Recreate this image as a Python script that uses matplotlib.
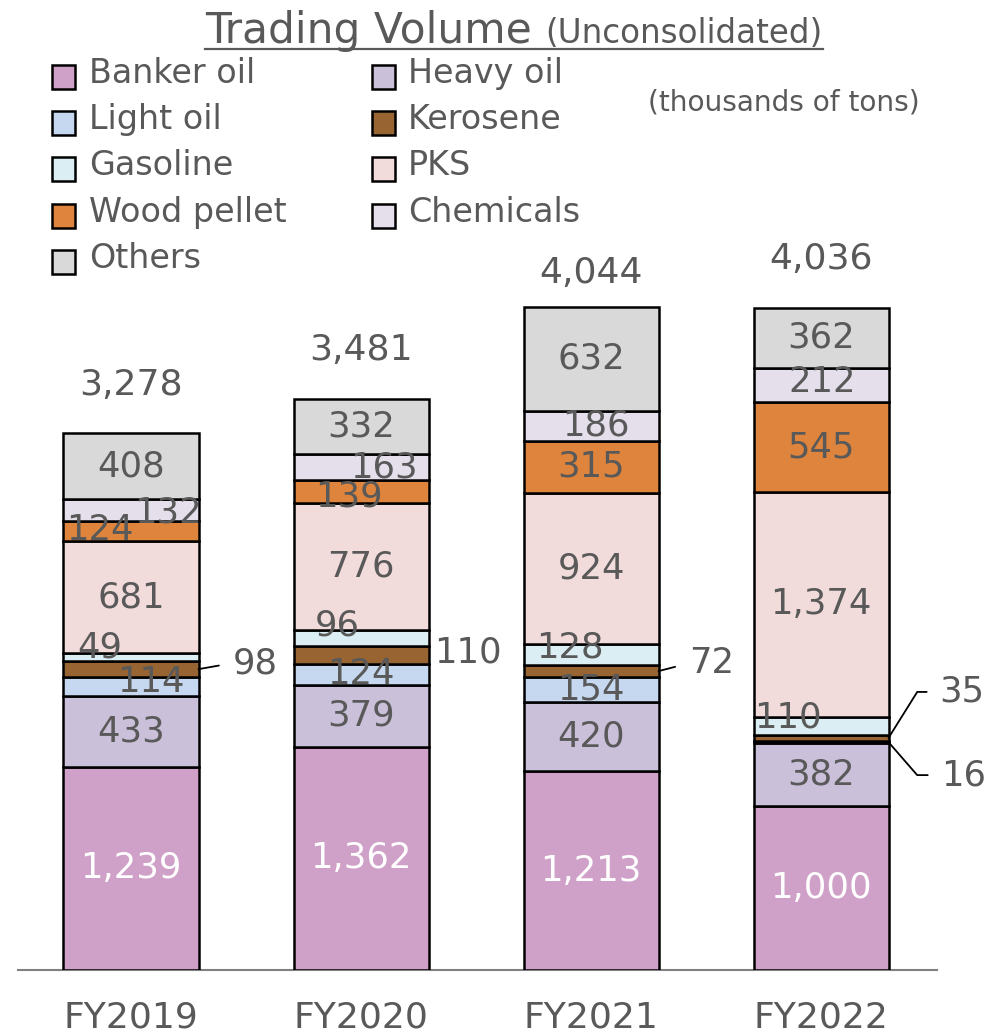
import matplotlib
matplotlib.use("Agg")
import matplotlib.pyplot as plt
from matplotlib.patches import Rectangle
from matplotlib.lines import Line2D

# ---------------- data ----------------
categories = ["FY2019", "FY2020", "FY2021", "FY2022"]
series_names = ["Banker oil", "Heavy oil", "Light oil", "Kerosene", "Gasoline",
                "PKS", "Wood pellet", "Chemicals", "Others"]
banker_oil = [1239, 1362, 1213, 1000]
heavy_oil = [433, 379, 420, 382]
light_oil = [114, 124, 154, 16]
kerosene = [98, 110, 72, 35]
gasoline = [49, 96, 128, 110]
pks = [681, 776, 924, 1374]
wood_pellet = [124, 139, 315, 545]
chemicals = [132, 163, 186, 212]
others = [408, 332, 632, 362]
totals = [3278, 3481, 4044, 4036]

title_main = "Trading Volume"
title_sub = "(Unconsolidated)"
unit_label = "(thousands of tons)"

series_values = [banker_oil, heavy_oil, light_oil, kerosene, gasoline,
                 pks, wood_pellet, chemicals, others]

# ---------------- style ----------------
colors = ["#D0A1C8", "#CBC0DA", "#C5D8EF", "#986432", "#DAEEF3",
          "#F2DCDB", "#DE843C", "#E5DFEC", "#D9D9D9"]
TXT = "#595959"
W, H = 1002, 1033

plt.rcParams['font.family'] = ['DejaVu Sans']

fig = plt.figure(figsize=(W / 100, H / 100), dpi=100)
ax = fig.add_axes([18 / W, (H - 970) / H, (937 - 18) / W, (970 - 280) / H])
px_per_unit = 0.16395
ax.set_xlim(-113 / 230, 806 / 230)
ax.set_ylim(0, 690 / px_per_unit)
bar_w = 135 / 230

# in-bar label offsets (pixels) for crowded segments: (bar, series) -> (dx, dy)
label_offsets = {
    (0, 2): (20, 5), (0, 4): (-31, 10), (0, 6): (-31, 1), (0, 7): (37, -2),
    (1, 4): (-24, 13), (1, 6): (-12, -5), (1, 7): (23, 0),
    (2, 4): (-21, 7), (2, 7): (5, 0),
    (3, 4): (-33, 9), (3, 7): (1, 3),
}
# outside labels: (bar, series) -> (dx, dy, shrink_px, connection)
outside = {
    (0, 3): (34, 6, 11, "arc3,rad=0"),
    (1, 3): (6, 3, None, None),
    (2, 3): (31, 8, 12, "arc3,rad=0"),
    (3, 3): (51, 46, 10, "angle,angleA=0,angleB=58,rad=0"),
    (3, 2): (53, -33, 11, "angle,angleA=0,angleB=-49,rad=0"),
}

x = list(range(len(categories)))
bottoms = [0] * len(categories)
for s, (vals, col) in enumerate(zip(series_values, colors)):
    ax.bar(x, vals, width=bar_w, bottom=bottoms, color=col,
           edgecolor="black", linewidth=1.8, zorder=3)
    for i, v in enumerate(vals):
        yc = bottoms[i] + v / 2
        txt = f"{v:,}"
        if (i, s) in outside:
            dx, dy, shr, conn = outside[(i, s)]
            kw = {}
            if conn is not None:
                kw["arrowprops"] = dict(arrowstyle="-", color="black", lw=1.3,
                                        shrinkA=shr * 0.72, shrinkB=0,
                                        relpos=(0, 0.5), connectionstyle=conn)
            ax.annotate(txt, xy=(i + bar_w / 2, yc), xytext=(dx, dy),
                        textcoords="offset pixels", ha="left", va="center",
                        fontsize=25.5, color=TXT, zorder=5, **kw)
        else:
            dx, dy = label_offsets.get((i, s), (0, 0))
            ax.annotate(txt, xy=(i, yc), xytext=(dx, dy),
                        textcoords="offset pixels", ha="center", va="center",
                        fontsize=25.5, color="white" if s == 0 else TXT, zorder=5)
    bottoms = [b + v for b, v in zip(bottoms, vals)]

total_offsets = [38, 39, 24, 39]
for i, t in enumerate(totals):
    ax.annotate(f"{t:,}", xy=(i, bottoms[i]), xytext=(0, total_offsets[i]),
                textcoords="offset pixels", ha="center", va="baseline",
                fontsize=26, color=TXT)

ax.set_xticks(x, categories)
ax.tick_params(axis="x", length=0, pad=22, labelsize=26, labelcolor=TXT)
ax.set_yticks([])
for sp in ["left", "right", "top"]:
    ax.spines[sp].set_visible(False)
ax.spines["bottom"].set_color("#808080")
ax.spines["bottom"].set_linewidth(1.5)
ax.spines["bottom"].set_zorder(2)

# ---------------- legend (manual, row-major in 2 columns) ----------------
for k, name in enumerate(series_names):
    row, colm = k // 2, k % 2
    cy = 77 + 46.2 * row
    mx = [52, 372][colm]
    tx = [89, 408][colm]
    fig.add_artist(Rectangle((mx / W, 1 - (cy + 12) / H), 23 / W, 24 / H,
                             transform=fig.transFigure, facecolor=colors[k],
                             edgecolor="black", linewidth=1.8))
    fig.text(tx / W, 1 - (cy + 6) / H, name, fontsize=24, color=TXT,
             va="baseline", ha="left")

# ---------------- title ----------------
t1 = fig.text(205 / W, 1 - 43 / H, title_main, fontsize=30.5, color=TXT,
              va="baseline", ha="left")
fig.canvas.draw()
bb1 = t1.get_window_extent()
t2 = fig.text((bb1.x1 + 14) / W, 1 - 43 / H, title_sub, fontsize=23.5,
              color=TXT, va="baseline", ha="left")
fig.canvas.draw()
bb2 = t2.get_window_extent()
fig.add_artist(Line2D([205 / W, bb2.x1 / W], [1 - 49 / H, 1 - 49 / H],
                      transform=fig.transFigure, color=TXT, lw=1.6))

fig.text(648 / W, 1 - 103 / H, unit_label, fontsize=20.2, color=TXT,
         va="center", ha="left")

fig.savefig("out.png", dpi=100)
